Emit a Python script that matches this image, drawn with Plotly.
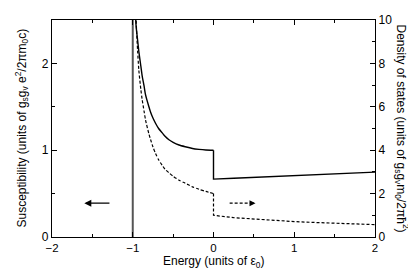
import plotly.graph_objects as go

# Energy (units of eps0) – below and above the band touching point
energy_neg = [-0.975, -0.96, -0.95, -0.94, -0.925, -0.9, -0.884, -0.86, -0.842, -0.8,
              -0.78, -0.75, -0.718, -0.68, -0.635, -0.6, -0.552, -0.5, -0.427, -0.35,
              -0.26, -0.18, -0.095, 0.0]
chi_neg = [2.75, 2.45, 2.35, 2.27, 2.14, 1.97, 1.86, 1.74, 1.64, 1.50,
           1.44, 1.37, 1.31, 1.25, 1.20, 1.16, 1.12, 1.09, 1.06, 1.04,
           1.02, 1.01, 1.003, 1.0]
dos_neg = [12.5, 10.2, 9.3, 8.6, 7.7, 6.8, 6.35, 5.8, 5.4, 4.75,
           4.5, 4.15, 3.85, 3.56, 3.3, 3.12, 2.96, 2.8, 2.62, 2.48,
           2.31, 2.2, 2.1, 2.0]

energy_pos = [0.0, 0.25, 0.5, 0.75, 1.0, 1.25, 1.5, 1.75, 2.0]
chi_pos = [0.667, 0.677, 0.687, 0.697, 0.707, 0.717, 0.727, 0.737, 0.747]
dos_pos = [1.0, 0.89, 0.82, 0.76, 0.71, 0.67, 0.63, 0.60, 0.57]

# band edge marker
edge_x = [-1, -1]
edge_y = [0, 2.5]

x_ticks = [-2, -1, 0, 1, 2]
y1_ticks = [0, 1, 2]
y2_ticks = [0, 2, 4, 6, 8, 10]

FONT = "Liberation Sans, Arial, Helvetica, sans-serif"

fig = go.Figure()
fig.add_trace(go.Scatter(x=edge_x, y=edge_y, mode="lines",
                         line=dict(color="#555555", width=2), showlegend=False))
fig.add_trace(go.Scatter(x=energy_neg, y=chi_neg, mode="lines",
                         line=dict(color="black", width=1.4, shape="spline", smoothing=0.6),
                         showlegend=False))
fig.add_trace(go.Scatter(x=[energy_neg[-1]] + energy_pos, y=[chi_neg[-1]] + chi_pos,
                         mode="lines", line=dict(color="black", width=1.4),
                         showlegend=False))
fig.add_trace(go.Scatter(x=energy_neg, y=dos_neg, mode="lines", yaxis="y2",
                         line=dict(color="black", width=1.2, dash="3px,2px",
                                   shape="spline", smoothing=0.6),
                         showlegend=False))
fig.add_trace(go.Scatter(x=[energy_neg[-1]] + energy_pos, y=[dos_neg[-1]] + dos_pos,
                         mode="lines", yaxis="y2",
                         line=dict(color="black", width=1.2, dash="3px,2px"),
                         showlegend=False))

axis_common = dict(showline=True, linecolor="black", linewidth=1.2, ticks="inside",
                   ticklen=5, tickcolor="black", tickwidth=1, showgrid=False,
                   zeroline=False, ticklabeloverflow="allow")

fig.update_layout(
    width=416, height=270,
    margin=dict(l=44, r=49, t=5, b=41),
    paper_bgcolor="white", plot_bgcolor="white",
    font=dict(family=FONT, size=12, color="black"),
    xaxis=dict(range=[-2, 2], tickvals=x_ticks, mirror="ticks",
               tickfont=dict(family=FONT, size=11.5, color="black"),
               minor=dict(ticks="inside", dtick=0.5, ticklen=3, tickcolor="black"),
               **axis_common),
    yaxis=dict(range=[0, 2.5], tickvals=y1_ticks,
               tickfont=dict(family=FONT, size=12, color="black"),
               minor=dict(ticks="inside", dtick=0.5, ticklen=3, tickcolor="black"),
               **axis_common),
    yaxis2=dict(range=[0, 10], tickvals=y2_ticks, overlaying="y", side="right",
                tickfont=dict(family=FONT, size=12, color="black"),
                minor=dict(ticks="inside", dtick=1, ticklen=3, tickcolor="black"),
                **axis_common),
    annotations=[
        dict(text="Susceptibility (units of g<sub>s</sub>g<sub>v</sub> e<sup>2</sup>/2πm<sub>0</sub>c)",
             xref="paper", yref="paper", x=0, y=0.5, xanchor="center", yanchor="middle",
             xshift=-31, textangle=-90, showarrow=False, font=dict(size=12)),
        dict(text="Density of states (units of g<sub>s</sub>g<sub>v</sub>m<sub>0</sub>/2πħ<sup>2</sup>)",
             xref="paper", yref="paper", x=1, y=0.5, xanchor="center", yanchor="middle",
             xshift=27, textangle=90, showarrow=False, font=dict(size=12)),
        dict(text="Energy (units of ε<sub>0</sub>)",
             xref="paper", yref="paper", x=0.5, y=0, xanchor="center", yanchor="middle",
             yshift=-25, showarrow=False, font=dict(size=12)),
        dict(x=-1.6, y=0.39, ax=-1.27, ay=0.39, xref="x", yref="y", axref="x", ayref="y",
             showarrow=True, arrowhead=2, arrowsize=1, arrowwidth=1.4, arrowcolor="black",
             text=""),
        dict(x=0.52, y=0.39, ax=0.44, ay=0.39, xref="x", yref="y", axref="x", ayref="y",
             showarrow=True, arrowhead=2, arrowsize=1, arrowwidth=1.2, arrowcolor="black",
             text=""),
    ],
    shapes=[dict(type="line", xref="x", yref="y", x0=0.2, x1=0.45, y0=0.39, y1=0.39,
                 line=dict(color="black", width=1.2, dash="3px,2px"))],
)

fig.write_html("out.html")
